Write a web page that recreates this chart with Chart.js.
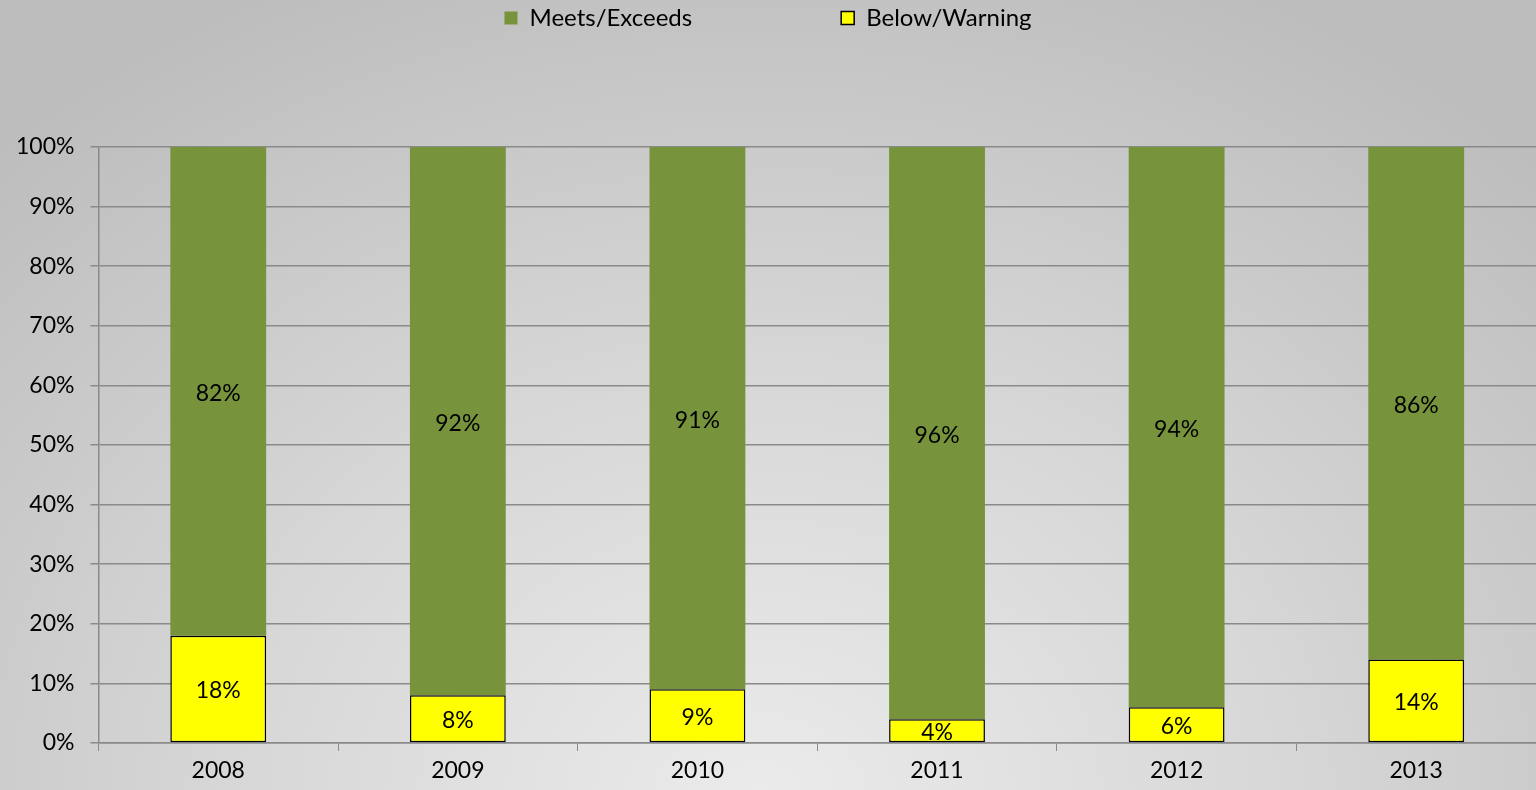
<!DOCTYPE html>
<html>
<head>
<meta charset="utf-8">
<script src="https://cdn.jsdelivr.net/npm/chart.js@4.4.0/dist/chart.umd.min.js"></script>
<style>
  html, body { margin: 0; padding: 0; }
  body {
    width: 1536px; height: 790px; overflow: hidden;
    background: radial-gradient(ellipse 1100px 900px at 760px 800px, #ebebeb 0%, #d6d6d6 50%, #bdbdbd 100%);
  }
  #box { position: relative; width: 1536px; height: 790px; }
</style>
</head>
<body>
<div id="box"><canvas id="grafico"></canvas></div>
<script>
// dados
const anos = ['2008', '2009', '2010', '2011', '2012', '2013'];
const abaixo = [18, 8, 9, 4, 6, 14];      // Below/Warning
const atende = [82, 92, 91, 96, 94, 86];  // Meets/Exceeds
const ticksY = [0, 10, 20, 30, 40, 50, 60, 70, 80, 90, 100];

const fonte = 'Lato, "Open Sans", sans-serif';
const tamanho = 23;
const cinza = '#8a8a8a';
const espacoLegenda = 149; // distância entre os itens da legenda

// rótulos de valor no centro de cada segmento
const rotulos = {
    id: 'rotulos',
    afterDatasetsDraw(chart) {
        const ctx = chart.ctx;
        ctx.save();
        ctx.font = tamanho + 'px ' + fonte;
        ctx.fillStyle = '#000';
        ctx.textAlign = 'center';
        ctx.textBaseline = 'middle';
        chart.data.datasets.forEach((ds, i) => {
            chart.getDatasetMeta(i).data.forEach((bar, j) => {
                const meio = (bar.y + bar.base) / 2;
                ctx.fillText(ds.data[j] + '%', bar.x, meio + 2);
            });
        });
        ctx.restore();
    }
};

// legenda no topo com altura fixa (o padding grande só serve para o espaço horizontal)
const legendaTopo = {
    id: 'legendaTopo',
    beforeLayout(chart) {
        const leg = chart.legend;
        if (leg && !leg._ajustada) {
            const fitOriginal = leg.fit;
            leg.fit = function () { fitOriginal.call(this); this.height = 147; };
            leg._ajustada = true;
        }
    },
    afterLayout(chart) {
        chart.legend.top = 18 - espacoLegenda - 12;
    }
};

new Chart(document.getElementById('grafico'), {
    type: 'bar',
    data: {
        labels: anos,
        datasets: [
            {
                label: 'Below/Warning',
                data: abaixo,
                backgroundColor: '#ffff00',
                borderColor: '#000',
                borderWidth: 1.5,
                borderSkipped: false
            },
            {
                label: 'Meets/Exceeds',
                data: atende,
                backgroundColor: '#77933c',
                borderWidth: 0
            }
        ]
    },
    options: {
        responsive: true,
        maintainAspectRatio: false,
        animation: false,
        devicePixelRatio: 1,
        layout: { padding: { top: 0, right: 0, left: 0, bottom: 0 } },
        datasets: { bar: { barPercentage: 0.4, categoryPercentage: 1 } },
        plugins: {
            legend: {
                position: 'top',
                reverse: true,
                labels: {
                    font: { size: 24, family: fonte },
                    color: '#000',
                    boxWidth: 13,
                    boxHeight: 13,
                    padding: espacoLegenda
                }
            },
            tooltip: { enabled: false }
        },
        scales: {
            x: {
                stacked: true,
                border: { color: cinza, width: 1.5 },
                grid: { display: true, drawOnChartArea: false, drawTicks: true, tickLength: 8, color: cinza, offset: true },
                ticks: { font: { size: tamanho, family: fonte, lineHeight: 1 }, color: '#000', padding: 8 }
            },
            y: {
                stacked: true,
                min: 0,
                max: 100,
                afterBuildTicks: (eixo) => { eixo.ticks = ticksY.map(v => ({ value: v })); },
                border: { color: cinza, width: 1.5 },
                grid: { color: cinza, lineWidth: 1.5, tickLength: 8 },
                ticks: {
                    font: { size: tamanho, family: fonte },
                    color: '#000',
                    padding: 16,
                    callback: v => v + '%'
                }
            }
        }
    },
    plugins: [rotulos, legendaTopo]
});
</script>
</body>
</html>
